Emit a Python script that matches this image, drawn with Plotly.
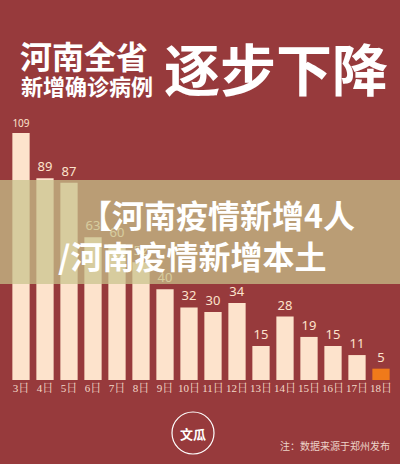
import plotly.graph_objects as go

days = ["3日","4日","5日","6日","7日","8日","9日","10日","11日","12日","13日","14日","15日","16日","17日","18日"]
cases = [109, 89, 87, 63, 60, 52, 40, 32, 30, 34, 15, 28, 19, 15, 11, 5]
colors = ["#fde3cc"]*15 + ["#f07a1a"]

W, H = 400, 464
top_px, base_px = 120, 380
ph = base_px - top_px
ymax = 109 * ph / 247

fig = go.Figure(go.Bar(x=days, y=cases, marker_color=colors, marker_line_width=0,
                       width=0.72, text=[str(v) for v in cases], textposition="outside",
                       textfont=dict(color="#fde3cc", size=13, family="Noto Sans"),
                       cliponaxis=False))
bg = "#973a3c"
fig.update_layout(width=W, height=H, paper_bgcolor=bg, plot_bgcolor=bg,
                  margin=dict(l=0, r=0, t=0, b=0), showlegend=False,
                  xaxis=dict(domain=[9/W, 393/W], showgrid=False, showline=False, ticks="", tickangle=0,
                             automargin=False,
                             tickfont=dict(color="#f3d9c8", size=11, family="Liberation Serif, Noto Serif CJK SC, Noto Sans CJK SC")),
                  yaxis=dict(domain=[1 - base_px/H, 1 - top_px/H], range=[0, ymax], visible=False, automargin=False),
                  font=dict(family="Noto Sans CJK SC"))

def px(x): return x / W
def py(y): return 1 - y / H

fig.add_shape(type="rect", xref="paper", yref="paper", x0=0, x1=1, y0=py(284), y1=py(180),
              fillcolor="rgba(200,195,140,0.72)", line_width=0, layer="above")
ann = [
    dict(x=px(18), y=py(55), text="<b>河南全省</b>", size=32, anchor="left"),
    dict(x=px(19), y=py(85), text="<b>新增确诊病例</b>", size=22, anchor="left"),
    dict(x=px(162), y=py(67), text="<b>逐步下降</b>", size=56, anchor="left"),
    dict(x=px(78), y=py(214), text="<b>【河南疫情新增4人</b>", size=32, anchor="left"),
    dict(x=px(56), y=py(255), text="<b>/河南疫情新增本土</b>", size=32, anchor="left"),
    dict(x=px(392), y=py(445), text="注：数据来源于郑州发布", size=10, anchor="right"),
    dict(x=px(193), y=py(433), text="<b>文瓜</b>", size=13, anchor="center"),
]
for a in ann:
    fig.add_annotation(x=a["x"], y=a["y"], xref="paper", yref="paper", text=a["text"],
                       showarrow=False, xanchor=a["anchor"], yanchor="middle",
                       font=dict(color="#ffffff" if a["size"] > 11 else "#ecd3c8", size=a["size"],
                                 family="Noto Sans CJK SC"))
fig.add_shape(type="circle", xref="paper", yref="paper", x0=px(172), x1=px(214), y0=py(454), y1=py(412),
              line=dict(color="#ffffff", width=1.2))
fig.write_html("out.html", config={"displayModeBar": False})
with open("out.html", encoding="utf-8") as f:
    html = f.read()
html = html.replace("<head>", "<head><style>html,body{margin:0;padding:0;overflow:hidden;}</style>", 1)
with open("out.html", "w", encoding="utf-8") as f:
    f.write(html)
